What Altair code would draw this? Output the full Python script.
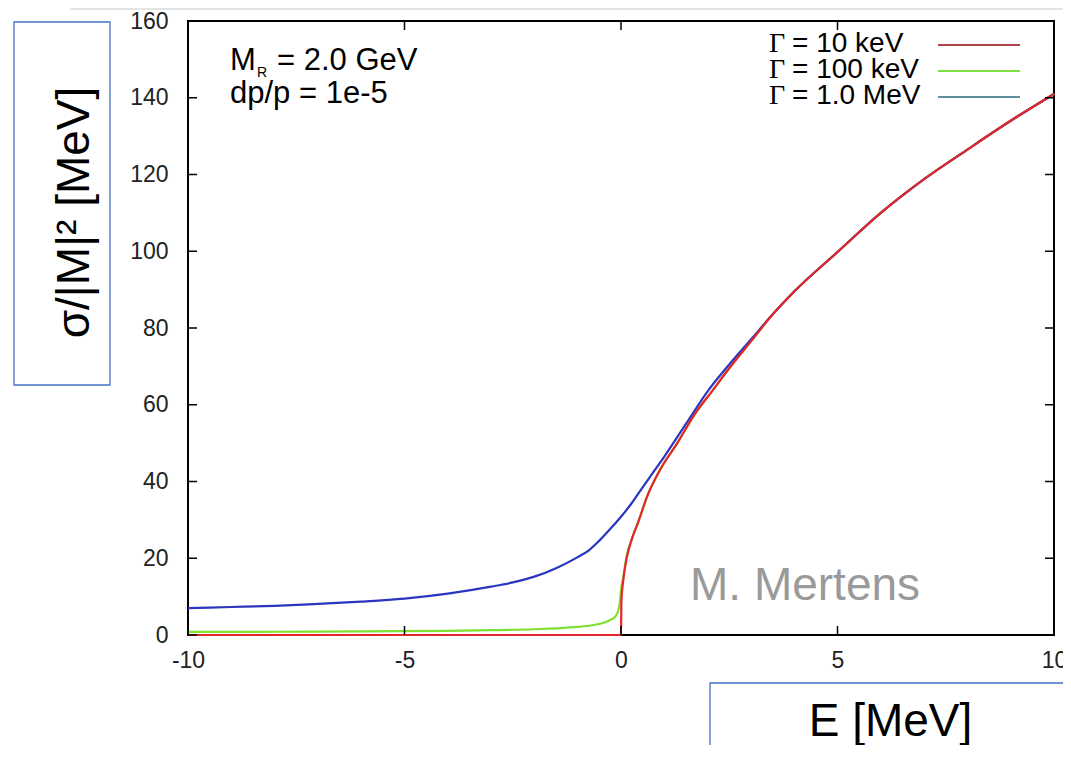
import altair as alt
import pandas as pd

# values: E in MeV, sigma/|M|^2 in MeV
# Gamma = 1.0 MeV (blue)
e_1mev = [-10, -9, -8, -7, -6, -5, -4, -3, -2.5, -2, -1.5, -1, -0.75, -0.5,
          -0.25, 0, 0.25, 0.5, 0.75, 1, 1.5, 2, 2.5, 3, 3.5, 4]
s_1mev = [7.0, 7.3, 7.6, 8.1, 8.7, 9.5, 10.8, 12.6, 13.7, 15.2, 17.4, 20.3, 22.0, 24.6,
          27.6, 30.8, 34.4, 38.5, 42.5, 46.5, 55.0, 63.5, 70.5, 77.0, 83.5, 89.5]

# Gamma = 100 keV (green)
e_100kev = [-10, -8, -6, -4, -3, -2, -1.5, -1, -0.64, -0.4, -0.25, -0.12, -0.06, -0.02,
            0, 0.05, 0.13, 0.25, 0.4, 0.6, 0.9, 1.3, 1.7, 2.1, 2.5, 3, 3.5, 4]
s_100kev = [0.8, 0.85, 0.95, 1.1, 1.25, 1.5, 1.75, 2.1, 2.6, 3.2, 3.9, 5.0, 6.5, 9.0,
            11.7, 15.0, 20.5, 25.0, 29.5, 36.0, 43.0, 50.0, 57.5, 63.5, 69.5, 76.5, 83.5, 89.5]

# Gamma = 10 keV (red)
e_10kev = [-10, -5, -1, -0.02, 0, 0.01, 0.05, 0.13, 0.25, 0.4, 0.6, 0.9, 1.3, 1.7,
           2.1, 2.5, 3, 3.5, 4]
s_10kev = [0, 0, 0, 0, 0, 9.0, 14.0, 20.0, 25.0, 29.5, 36.0, 43.0, 50.0, 57.5,
           63.5, 69.5, 76.5, 83.5, 89.5]

# above ~4 MeV the three curves lie on top of each other
e_tail = [5, 6, 7, 8, 9, 10]
s_tail = [99.8, 110.0, 118.8, 126.5, 134.0, 141.0]

legend_rest = ["= 10 keV", "= 100 keV", "= 1.0 MeV"]
legend_colors = ["#b0404c", "#7ee040", "#5f8f9f"]

x_ticks = [-10, -5, 0, 5, 10]
y_ticks = [0, 20, 40, 60, 80, 100, 120, 140, 160]

W, H = 866, 614
FONT = "Liberation Sans"

x_scale = alt.Scale(domain=[-10, 10], nice=False, zero=False)
y_scale = alt.Scale(domain=[0, 160], nice=False)

x_axis = alt.Axis(values=x_ticks, ticks=False, tickSize=0, domain=False, grid=False,
                  labelFont=FONT, labelFontSize=23, labelColor="#222",
                  labelPadding=14, labelFlush=False, labelExpr="'' + datum.value",
                  title="E [MeV]", titleFont=FONT, titleFontSize=46,
                  titleFontWeight="normal", titleColor="black",
                  titleX=702, titleY=100, titleAlign="center",
                  titleBaseline="alphabetic")
y_axis = alt.Axis(values=y_ticks, ticks=False, tickSize=0, domain=False, grid=False,
                  labelFont=FONT, labelFontSize=23, labelColor="#222",
                  labelPadding=20, labelExpr="'' + datum.value",
                  title="σ/|M|² [MeV]", titleFont=FONT, titleFontSize=46,
                  titleFontWeight="normal", titleColor="black",
                  titleAngle=270, titleX=-100, titleY=191, titleAlign="center",
                  titleBaseline="alphabetic")

X = alt.X("E:Q", scale=x_scale, axis=x_axis)
Y = alt.Y("sigma:Q", scale=y_scale, axis=y_axis)


def curve(e, s, color):
    df = pd.DataFrame({"E": e + e_tail, "sigma": s + s_tail})
    return alt.Chart(df).mark_line(color=color, strokeWidth=2.2, interpolate="monotone").encode(
        x=X, y=Y)


def text(t, x, y, size, color="black", font=FONT):
    return alt.Chart(pd.DataFrame({"t": [t]})).mark_text(
        align="left", baseline="alphabetic", font=font, fontSize=size, color=color
    ).encode(text="t:N", x=alt.value(x), y=alt.value(y))


def box(x, x2, y, y2):
    return alt.Chart(pd.DataFrame({"b": [0]})).mark_rect(
        fillOpacity=0, stroke="#4472c4", strokeWidth=1.3
    ).encode(x=alt.value(x), x2=alt.value(x2), y=alt.value(y), y2=alt.value(y2))


layers = [
    curve(e_100kev, s_100kev, "#7ee030"),
    curve(e_1mev, s_1mev, "#2a35c0"),
    curve(e_10kev, s_10kev, "#e4262c"),
]

# inward ticks on all four sides, like gnuplot
xt = pd.DataFrame({"E": x_ticks})
yt = pd.DataFrame({"sigma": y_ticks})
tick = dict(color="black", strokeWidth=1.5)
layers += [
    alt.Chart(yt).mark_rule(**tick).encode(y=Y, x=alt.value(0), x2=alt.value(9)),
    alt.Chart(yt).mark_rule(**tick).encode(y=Y, x=alt.value(W - 9), x2=alt.value(W)),
    alt.Chart(xt).mark_rule(**tick).encode(x=X, y=alt.value(H - 9), y2=alt.value(H)),
    alt.Chart(xt).mark_rule(**tick).encode(x=X, y=alt.value(0), y2=alt.value(9)),
]

# key, labels first and line sample on the right
for i, (rest, col) in enumerate(zip(legend_rest, legend_colors)):
    yb = 31 + 26 * i
    layers.append(text("Γ", 581, yb, 28, font="Liberation Serif"))
    layers.append(text(rest, 604, yb, 28))
    layers.append(alt.Chart(pd.DataFrame({"c": [col]})).mark_rule(color=col, strokeWidth=2).encode(
        x=alt.value(750), x2=alt.value(832), y=alt.value(yb - 7)))

# annotations
layers += [
    text("M", 42, 49, 31),
    text("R", 69, 56, 14),
    text("= 2.0 GeV", 89, 49, 31),
    text("dp/p = 1e-5", 42, 82, 31),
    text("M. Mertens", 502, 579, 46, color="#9a9a9a"),
    box(-174, -78, 1, 364),
    box(522, 900, 662, 760),
    alt.Chart(pd.DataFrame({"c": [0]})).mark_rule(color="#e4e4e4", strokeWidth=2).encode(
        x=alt.value(-118), x2=alt.value(900), y=alt.value(-12)),
]

chart = alt.layer(*layers).properties(
    width=W, height=H, autosize="none",
    padding={"left": 180, "top": 13, "right": 9, "bottom": 110},
    background="white",
).configure_view(stroke="black", strokeWidth=2)

chart.save("out.html", embed_options={"renderer": "svg", "actions": False})
